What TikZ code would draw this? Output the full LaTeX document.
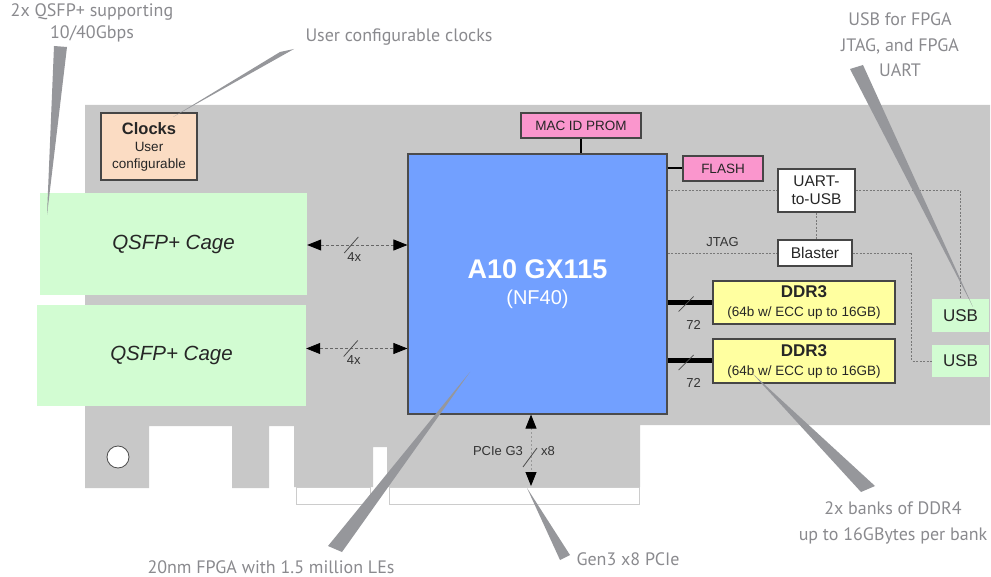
\documentclass[tikz,border=0pt]{standalone}
\usepackage{fontspec}
\setmainfont{Liberation Sans}
\newfontfamily\callfont{PT Sans}
\usetikzlibrary{arrows.meta,positioning,calc}
\definecolor{board}{RGB}{200,200,200}
\definecolor{cagegreen}{RGB}{210,252,210}
\definecolor{clkpeach}{RGB}{251,220,195}
\definecolor{prompink}{RGB}{250,150,205}
\definecolor{fpgablue}{RGB}{114,160,255}
\definecolor{ddryellow}{RGB}{255,255,160}
\definecolor{wedgegray}{RGB}{150,151,155}
\definecolor{callgray}{RGB}{138,138,142}
\definecolor{boxedge}{RGB}{70,70,70}
\definecolor{wiregray}{RGB}{120,120,120}
\tikzset{
  blk/.style={draw=boxedge,line width=1.1pt,inner sep=0pt,align=center,
    text=black!85,font=\fontsize{13}{15}\selectfont},
  cage/.style={fill=cagegreen,inner sep=0pt,text=black!85,
    font=\fontsize{20.5}{24}\selectfont\itshape},
  callout/.style={align=center,inner sep=0pt,text=callgray,
    font=\callfont\fontsize{18}{24}\selectfont},
  lbl/.style={inner sep=0pt,text=black!80,font=\fontsize{13}{15}\selectfont},
  link/.style={dash pattern=on 3pt off 2pt,draw=black!60,line width=0.8pt,
    {Triangle[length=14pt,width=11pt,color=black]}-{Triangle[length=14pt,width=11pt,color=black]}},
  wire/.style={dash pattern=on 2pt off 1.5pt,draw=wiregray,line width=0.8pt},
  slash/.style={draw=black!70,line width=0.8pt},
  wedge/.style={fill=wedgegray}
}
\begin{document}
\begin{tikzpicture}[x=1pt,y=-1pt]
  \useasboundingbox (0,0) rectangle (991,577);
  % board outline with bracket tabs and edge notch
  \fill[board] (85,105) -- (990,105) -- (990,425) -- (640,425) -- (640,487)
    -- (387,487) -- (387,447) -- (373,447) -- (373,487) -- (294,487)
    -- (294,426) -- (269,426) -- (269,488) -- (232,488) -- (232,426)
    -- (149,426) -- (149,488) -- (85,488) -- cycle;
  \foreach \a/\b in {296/370, 389/639}
    \draw[draw=black!20,fill=white,line width=1pt] (\a,487) rectangle (\b,504);
  \draw[fill=white,draw=black!70,line width=0.8pt] (118,457) circle (11pt);

  % blocks
  \node[blk,fill=clkpeach,minimum width=96,minimum height=67,
    font=\fontsize{13.5}{17}\selectfont] (clocks) at (149,146.5)
    {{\bfseries\fontsize{16.5}{17}\selectfont Clocks}\\User\\configurable};
  \node[cage,minimum width=267,minimum height=102] (qsfp1) at (173.5,244) {QSFP+ Cage};
  \node[cage,minimum width=269,minimum height=101] (qsfp2) at (171.5,355.5) {QSFP+ Cage};
  \node[blk,fill=fpgablue,line width=1.2pt,draw=black!70,text=white,
    minimum width=259,minimum height=260,font=\fontsize{20}{26}\selectfont]
    (fpga) at (537.5,284) {{\bfseries\fontsize{27}{26}\selectfont A10 GX115}\\(NF40)};
  \node[blk,fill=prompink,minimum width=120,minimum height=25,
    font=\fontsize{13.5}{15}\selectfont] (prom) at (581,125.5) {MAC ID PROM};
  \node[blk,fill=prompink,minimum width=80,minimum height=25,
    font=\fontsize{13.5}{15}\selectfont] (flash) at (723,168.5) {FLASH};
  \node[blk,fill=white,minimum width=77,minimum height=43,
    font=\fontsize{15.5}{18}\selectfont] (uart) at (816.5,190.5) {UART-\\to-USB};
  \node[blk,fill=white,minimum width=74,minimum height=26,
    font=\fontsize{15.5}{18}\selectfont] (blaster) at (815,253) {Blaster};
  \node[blk,fill=ddryellow,minimum width=182,minimum height=43,
    font=\fontsize{13.5}{19}\selectfont] (ddr1) at (804,302.5)
    {{\bfseries\fontsize{17}{19}\selectfont DDR3}\\(64b w/ ECC up to 16GB)};
  \node[blk,fill=ddryellow,minimum width=182,minimum height=44,
    font=\fontsize{13.5}{19}\selectfont] (ddr2) at (804,361)
    {{\bfseries\fontsize{17}{19}\selectfont DDR3}\\(64b w/ ECC up to 16GB)};
  \node[cage,font=\fontsize{17}{20}\selectfont,minimum width=57,minimum height=33] (usb1) at (960.5,315.5) {USB};
  \node[cage,font=\fontsize{17}{20}\selectfont,minimum width=57,minimum height=32] (usb2) at (960.5,361) {USB};

  % QSFP lanes
  \foreach \q/\dy in {qsfp1/1, qsfp2/-7} {
    \draw[link] ($(\q.east)+(0,\dy)$) coordinate (\q-a) -- (\q-a -| fpga.west) coordinate (\q-b);
    \draw[slash] ($(\q-a)!0.44!(\q-b)+(-7,8)$) -- ++(14,-16);
    \node[lbl] (\q-n) at ($(\q-a)!0.47!(\q-b)+(0,12)$) {4x};
  }

  % memory buses
  \draw[line width=2pt] (prom.south) -- (prom.south |- fpga.north);
  \draw[line width=2pt] (fpga.east |- flash.west) -- (flash.west);
  \foreach \m in {ddr1,ddr2} {
    \draw[line width=5pt] (fpga.east |- \m.west) coordinate (\m-a) -- (\m.west);
    \draw[slash] ($(\m-a)+(11,9)$) -- ++(15,-15);
    \node[lbl] (\m-w) at ($(\m-a)+(26,22)$) {72};
  }

  % USB / JTAG wiring
  \draw[wire] (fpga.east |- uart.west) -- (uart.west);
  \draw[wire] (uart.east) -| (usb1.north);
  \draw[wire] (uart.south) -- (uart.south |- blaster.north);
  \draw[wire] (fpga.east |- blaster.west) -- node[lbl,above=6pt] (jtag) {JTAG} (blaster.west);
  \draw[wire] (blaster.east) -- ++(59,0) |- (usb2.west);

  % PCIe edge
  \coordinate (slot) at (531,486);
  \draw[link,dash pattern=on 2pt off 2pt,draw=black!40] (fpga.south -| slot) -- (slot);
  \draw[slash] (523,467) -- (537,448);
  \node[lbl] (pcie) at (498,451) {PCIe G3};
  \node[lbl] (lanes) at (548,451) {x8};

  % callouts
  \node[callout,font=\callfont\fontsize{18}{22}\selectfont] (c-qsfp) at (92,23) {2x QSFP+ supporting\\10/40Gbps};
  \node[callout] (c-clk) at (399,37) {User configurable clocks};
  \node[callout,font=\callfont\fontsize{18}{25.5}\selectfont] (c-usb) at (900,45) {USB for FPGA\\JTAG, and FPGA\\UART};
  \node[callout] (c-fpga) at (271,567) {20nm FPGA with 1.5 million LEs};
  \node[callout] (c-pcie) at (628,559) {Gen3 x8 PCIe};
  \node[callout,font=\callfont\fontsize{18}{25.5}\selectfont] (c-ddr) at (893,523) {2x banks of DDR4\\up to 16GBytes per bank};
  \fill[wedge] (54,46) -- (67,47) -- (47,215) -- cycle;
  \fill[wedge] (280,52) -- (294,49) -- (173,117) -- cycle;
  \fill[wedge] (850,69) -- (863,65) -- (973,307) -- cycle;
  \fill[wedge] (328,546) -- (342,552) -- (470,372) -- cycle;
  \fill[wedge] (560,560) -- (570,555) -- (527,488) -- cycle;
  \fill[wedge] (861,492) -- (875,486) -- (752,373) -- cycle;
\end{tikzpicture}
\end{document}
